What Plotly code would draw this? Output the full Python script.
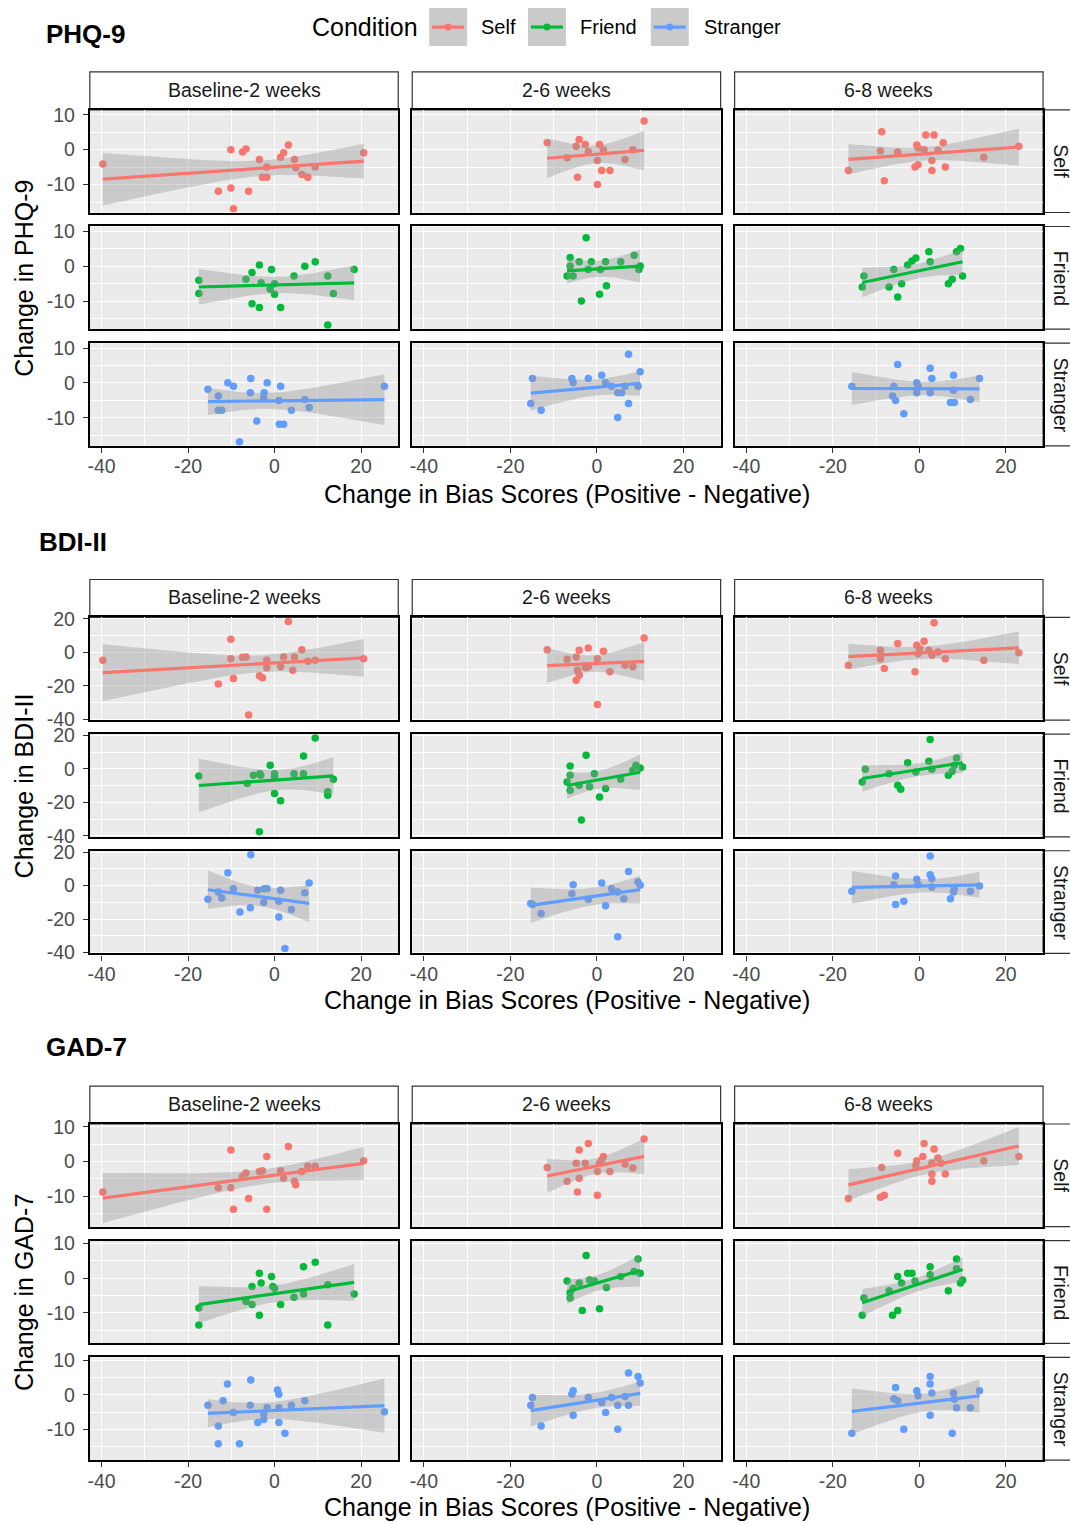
import numpy as np
import plotly.graph_objects as go

# ---------------------------------------------------------------------------
# Data: (change in bias score, change in symptom score) per participant
# ---------------------------------------------------------------------------
CONDITIONS = ["Self", "Friend", "Stranger"]
PERIODS = ["Baseline-2 weeks", "2-6 weeks", "6-8 weeks"]
MEASURES = ["PHQ-9", "BDI-II", "GAD-7"]

PHQ_SELF_T1 = [(-39.7, -4.1), (-13.0, -11.9), (-10.1, 0.0), (-10.1, -11.0), (-9.5, -16.9), (-7.4, -0.7),
               (-6.6, 0.2), (-6.0, -11.9), (-3.5, -2.8), (-2.8, -7.9), (-1.8, -5.0), (-1.8, -7.9),
               (1.4, -2.2), (2.1, -0.9), (3.2, 1.3), (4.6, -2.8), (4.9, -5.2), (6.3, -7.1), (7.7, -7.9),
               (9.4, -5.0), (20.6, -0.9)]
PHQ_SELF_T2 = [(-11.5, 2.0), (-6.9, -2.3), (-4.8, 1.0), (-4.1, 2.9), (-2.7, 1.5), (-4.5, -7.9), (0.1, -3.1),
               (0.6, 1.5), (1.5, 0.0), (1.1, -6.0), (3.0, -6.0), (0.1, -10.0), (6.5, -2.8), (8.3, 0.0),
               (10.9, 8.2), (-2.0, -0.5)]
PHQ_SELF_T3 = [(-16.4, -6.0), (-9.0, -0.4), (-8.7, 5.1), (-8.1, -8.9), (-5.0, -0.7), (-0.6, 1.3), (-0.3, 0.5),
               (-1.0, -5.0), (-0.3, -4.3), (1.1, 0.0), (1.5, 4.2), (3.4, 4.2), (2.9, -3.1), (2.9, -6.0),
               (4.3, -0.2), (5.5, 2.0), (6.0, -5.0), (14.9, -2.2), (23.0, 1.0)]
PHQ_FRIEND_T1 = [(-17.5, -4.0), (-17.5, -7.8), (-6.6, -3.7), (-5.2, -1.8), (-3.5, 0.4), (-3.1, -4.7),
                 (-0.7, -0.9), (-1.0, -6.6), (0.0, -8.0), (0.0, -5.0), (-5.2, -10.7), (-3.5, -11.8),
                 (1.4, -11.8), (4.5, -2.8), (7.0, 0.0), (9.4, 1.3), (12.3, -2.8), (13.6, -7.8),
                 (12.3, -16.8), (18.4, -0.9)]
PHQ_FRIEND_T2 = [(-2.5, 8.2), (-6.2, 2.5), (-6.2, 0.1), (-6.9, -2.8), (-5.5, -2.8), (-4.1, 1.3), (-1.3, 1.3),
                 (2.0, 1.3), (5.5, 1.3), (8.6, 3.2), (10.0, 0.1), (9.7, -0.9), (2.2, -5.6), (0.6, -8.0),
                 (-3.6, -9.9), (-2.0, -0.9), (0.8, -0.9)]
PHQ_FRIEND_T3 = [(-12.8, -2.8), (-13.2, -5.9), (-7.0, -5.9), (-5.0, -8.8), (-5.9, -0.9), (-4.1, -5.0),
                 (-2.7, 0.4), (-1.7, 1.5), (-0.8, 2.4), (2.2, 4.2), (2.5, 1.3), (6.7, -5.0), (7.6, -3.7),
                 (8.6, 4.2), (9.5, 5.1), (10.0, -2.8)]
PHQ_STRANGER_T1 = [(-15.4, -1.8), (-13.0, -3.7), (-13.0, -7.8), (-12.2, -7.8), (-10.8, 0.1), (-9.5, -0.9),
                   (-5.5, 1.3), (-5.6, -2.8), (-2.4, -2.8), (-1.7, 0.1), (-2.5, -4.2), (1.4, -0.9),
                   (1.0, -5.0), (3.9, -7.8), (7.0, -4.7), (8.0, -7.0), (-4.1, -10.9), (1.1, -11.8),
                   (2.1, -11.8), (-8.1, -16.8), (25.4, -0.9)]
PHQ_STRANGER_T2 = [(-14.9, 1.3), (-15.3, -5.9), (-12.9, -7.8), (-5.8, 1.3), (-5.5, 0.1), (-2.0, 1.3),
                   (1.1, 2.2), (2.0, 0.1), (3.4, -0.9), (4.8, -2.8), (5.7, -2.8), (6.5, -0.9), (7.3, 8.2),
                   (10.0, 3.2), (9.5, -0.9), (7.3, -5.9), (4.8, -9.9)]
PHQ_STRANGER_T3 = [(-15.6, -0.9), (-5.0, 5.3), (-5.9, -0.9), (-6.2, -3.7), (-5.5, -5.0), (-3.6, -8.8),
                   (-0.6, 0.1), (-0.3, -0.9), (-0.6, -2.8), (2.5, 4.2), (2.9, 1.3), (2.5, -2.8), (7.9, 2.2),
                   (7.9, -2.1), (7.2, -5.6), (8.1, -5.6), (11.8, -4.7), (13.9, 1.3)]

BDI_SELF_T1 = [(-39.7, -4.8), (-13.0, -19.0), (-10.1, 7.8), (-10.1, -3.8), (-9.5, -15.7), (-7.4, -3.0),
               (-6.6, -2.8), (-6.0, -37.6), (-3.5, -14.1), (-2.8, -15.3), (-1.8, -4.8), (-1.8, -9.3),
               (1.4, -8.7), (2.1, -2.8), (3.2, 18.5), (4.6, -2.8), (4.2, -10.7), (6.3, 1.6), (7.7, -5.4),
               (9.4, -4.8), (20.6, -3.8)]
BDI_SELF_T2 = [(-11.5, 1.6), (-6.9, -4.2), (-4.8, -2.8), (-4.1, 1.2), (-2.0, 2.6), (1.5, 0.6), (0.1, -3.8),
               (-4.5, -10.7), (-4.8, -16.7), (-4.1, -13.7), (-2.7, -9.3), (0.1, -31.2), (3.0, -11.7),
               (6.5, -7.8), (8.3, -8.7), (10.9, 8.5), (-2.0, -8.7)]
BDI_SELF_T3 = [(-16.4, -7.8), (-9.0, 1.2), (-9.0, -3.8), (-8.1, -9.7), (-5.0, 5.2), (-0.6, 4.2), (0.1, 2.2),
               (1.1, 6.6), (-1.0, -11.7), (-0.3, -0.8), (2.9, -1.8), (3.4, 17.7), (4.3, 0.2), (6.0, -3.8),
               (14.9, -4.8), (23.0, -0.2), (2.2, 1.2)]
BDI_FRIEND_T1 = [(-17.5, -4.2), (-4.9, -3.8), (-3.4, -2.8), (-1.0, 2.2), (-3.2, -3.8), (-6.3, -8.7),
                 (0.0, -2.8), (0.0, -4.8), (4.5, -2.8), (6.7, 7.8), (6.7, -2.8), (9.4, 18.5), (0.0, -14.7),
                 (1.4, -19.0), (-3.5, -37.6), (12.3, -13.7), (12.3, -15.7), (13.6, -6.2)]
BDI_FRIEND_T2 = [(-2.5, 8.2), (-6.2, 1.8), (-6.2, -3.8), (-6.9, -7.8), (-6.2, -12.7), (-4.1, -9.7),
                 (-1.7, -10.7), (-0.6, -2.8), (2.0, -11.7), (0.6, -16.7), (5.5, -6.2), (9.0, 2.2),
                 (10.0, 0.6), (8.3, -0.8), (-3.6, -30.6)]
BDI_FRIEND_T3 = [(2.5, 17.7), (-12.5, -0.2), (-13.2, -7.8), (-7.0, -2.8), (-5.0, -9.7), (-4.3, -12.1),
                 (-2.7, 3.8), (-0.8, -1.8), (2.2, 4.6), (2.9, -0.2), (6.7, -3.8), (8.6, 6.6), (8.1, 2.2),
                 (10.0, 1.2), (7.6, -1.4)]
BDI_STRANGER_T1 = [(-15.4, -8.2), (-13.0, -3.8), (-12.2, -7.4), (-10.8, 7.8), (-9.5, -1.8), (-5.5, 18.5),
                   (-8.0, -15.7), (-5.6, -13.3), (-3.9, -2.8), (-2.4, -1.8), (-1.7, -1.8), (-2.5, -10.1),
                   (1.0, -9.3), (1.4, -2.8), (3.9, -14.3), (7.0, -4.2), (8.0, 1.6), (1.0, -18.7),
                   (2.4, -37.6)]
BDI_STRANGER_T2 = [(7.3, 8.5), (1.1, 1.6), (-5.5, 0.6), (-14.9, -11.3), (-15.3, -10.7), (-12.9, -16.7),
                   (-5.8, -4.8), (-2.0, -8.2), (2.0, -12.1), (3.4, -1.8), (4.8, -3.8), (6.2, -7.8),
                   (9.5, 2.2), (10.0, 0.2), (4.8, -30.6)]
BDI_STRANGER_T3 = [(-15.6, -3.4), (-5.5, 5.8), (-5.9, 0.6), (-5.5, -11.3), (-3.6, -9.3), (-0.6, 3.8),
                   (-0.3, 0.6), (2.5, 17.7), (2.5, 6.6), (2.9, 4.2), (2.9, -0.8), (7.9, -3.8), (7.2, -7.8),
                   (11.8, -3.4), (13.9, -0.2), (8.1, -1.5)]

GAD_SELF_T1 = [(-39.7, -8.8), (-10.1, 3.3), (-1.8, 1.4), (3.2, 4.3), (-13.0, -7.6), (-10.1, -7.6),
               (-9.5, -13.8), (-6.0, -10.7), (-1.8, -13.8), (-7.4, -4.3), (-6.6, -3.3), (-3.5, -2.9),
               (-2.8, -2.7), (1.4, -2.7), (2.1, -4.8), (4.6, -5.7), (4.9, -6.7), (6.3, -2.9), (7.7, -1.4),
               (9.4, -1.4), (20.6, 0.2)]
GAD_SELF_T2 = [(-11.5, -1.7), (-6.9, -5.7), (-4.8, -0.5), (-4.1, 3.3), (-2.0, 5.2), (-4.1, -4.8),
               (-4.5, -8.8), (0.1, -9.7), (0.1, -2.9), (0.6, -0.5), (1.5, 1.4), (3.0, -2.9), (-2.7, -0.5),
               (6.5, -0.8), (8.3, -1.9), (10.9, 6.5), (1.1, 0.5)]
GAD_SELF_T3 = [(-16.4, -10.7), (-9.0, -10.3), (-8.1, -9.7), (-8.7, -1.7), (-5.0, 2.4), (-0.6, 0.2),
               (-0.8, -1.1), (1.1, 5.2), (0.8, 1.4), (3.4, 3.6), (2.9, -0.5), (2.9, -3.6), (2.9, -5.7),
               (4.3, 1.0), (5.0, -0.5), (6.0, -3.6), (14.9, 0.2), (23.0, 1.4)]
GAD_FRIEND_T1 = [(-17.5, -8.6), (-17.5, -13.5), (-6.6, -6.7), (-5.2, -7.6), (-5.2, -2.4), (-3.5, 1.4),
                 (-3.1, -1.4), (-0.7, 0.5), (-0.4, -2.4), (0.0, -2.9), (-3.5, -10.7), (1.4, -7.6),
                 (4.5, -5.5), (6.7, 3.3), (6.7, -4.6), (9.4, 4.6), (12.3, -1.9), (12.3, -13.5),
                 (18.4, -4.6)]
GAD_FRIEND_T2 = [(-2.5, 6.5), (-6.9, -0.8), (-6.2, -4.3), (-6.2, -5.7), (-4.1, -1.4), (-1.7, -0.5),
                 (-0.6, -0.8), (2.2, -2.7), (5.5, 0.5), (8.6, 1.9), (9.5, 5.5), (10.0, 1.4), (-3.4, -9.3),
                 (0.6, -8.8), (-5.5, -2.9)]
GAD_FRIEND_T3 = [(-12.8, -5.7), (-13.2, -10.7), (-7.0, -3.6), (-6.2, -10.7), (-5.0, -9.3), (-5.0, 0.5),
                 (-4.1, -1.4), (-2.7, 1.4), (-1.7, 1.4), (-1.0, -0.8), (2.5, 3.3), (2.5, 1.0), (6.7, -3.6),
                 (8.6, 5.5), (8.6, 2.7), (9.5, -1.4), (10.0, -0.5)]
GAD_STRANGER_T1 = [(-15.4, -3.0), (-13.0, -9.0), (-13.0, -14.1), (-11.9, -1.7), (-10.9, 3.1), (-9.5, -5.1),
                   (-8.1, -14.1), (-5.5, 4.3), (-5.6, -3.0), (-3.9, -8.0), (-2.5, -7.1), (-2.5, -5.6),
                   (-1.7, -3.7), (0.7, 1.4), (1.0, 0.2), (1.0, -3.7), (1.0, -8.0), (2.4, -11.1),
                   (3.9, -3.0), (7.0, -1.7), (25.4, -4.9)]
GAD_STRANGER_T2 = [(7.3, 6.3), (9.5, 5.3), (10.0, 3.4), (-14.9, -0.8), (-15.3, -3.0), (-12.9, -9.0),
                   (-5.8, 0.2), (-5.5, 1.2), (-5.5, -5.9), (-2.0, -0.8), (1.1, -2.2), (2.0, -5.1),
                   (3.4, -0.8), (4.8, -3.0), (6.5, -0.5), (7.3, -3.0), (4.8, -9.9)]
GAD_STRANGER_T3 = [(-15.6, -11.1), (-5.5, 2.1), (-5.9, -1.1), (-5.0, -1.7), (-3.6, -9.9), (-0.6, 1.2),
                   (-0.3, -0.3), (2.5, 5.3), (2.5, 3.1), (2.9, 0.5), (2.5, -5.9), (7.9, 0.5), (8.1, -1.3),
                   (8.6, -3.7), (7.6, -11.1), (11.8, -3.7), (13.9, 1.2)]

PANELS = {
    ("PHQ-9", "Self"): [PHQ_SELF_T1, PHQ_SELF_T2, PHQ_SELF_T3],
    ("PHQ-9", "Friend"): [PHQ_FRIEND_T1, PHQ_FRIEND_T2, PHQ_FRIEND_T3],
    ("PHQ-9", "Stranger"): [PHQ_STRANGER_T1, PHQ_STRANGER_T2, PHQ_STRANGER_T3],
    ("BDI-II", "Self"): [BDI_SELF_T1, BDI_SELF_T2, BDI_SELF_T3],
    ("BDI-II", "Friend"): [BDI_FRIEND_T1, BDI_FRIEND_T2, BDI_FRIEND_T3],
    ("BDI-II", "Stranger"): [BDI_STRANGER_T1, BDI_STRANGER_T2, BDI_STRANGER_T3],
    ("GAD-7", "Self"): [GAD_SELF_T1, GAD_SELF_T2, GAD_SELF_T3],
    ("GAD-7", "Friend"): [GAD_FRIEND_T1, GAD_FRIEND_T2, GAD_FRIEND_T3],
    ("GAD-7", "Stranger"): [GAD_STRANGER_T1, GAD_STRANGER_T2, GAD_STRANGER_T3],
}

X_TICKS = [-40, -20, 0, 20]
Y_TICKS = {"PHQ-9": [-10, 0, 10], "BDI-II": [-40, -20, 0, 20], "GAD-7": [-10, 0, 10]}

# ---------------------------------------------------------------------------
# Styling / layout
# ---------------------------------------------------------------------------
W, H = 1070, 1524
FONT = "Liberation Sans, Arial, sans-serif"
COLORS = {"Self": "#F8766D", "Friend": "#00BA38", "Stranger": "#619CFF"}
BAND = "rgba(153,153,153,0.4)"
PANEL_BG = "#EBEBEB"

X_RANGE = [-42.7, 28.6]
Y_RANGES = {"PHQ-9": [-18.0, 11.4], "BDI-II": [-40.6, 20.9], "GAD-7": [-18.8, 10.8]}
Y_MINOR = {"PHQ-9": 5, "BDI-II": 10, "GAD-7": 5}

COL_PX = [(88, 397), (411, 720), (734, 1043)]
ROW_PX = {
    "PHQ-9": [(108, 211), (225, 328), (342, 445)],
    "BDI-II": [(617, 720), (734, 837), (851, 954)],
    "GAD-7": [(1125, 1228), (1242, 1345), (1359, 1462)],
}
STRIP_TOP = {"PHQ-9": 70, "BDI-II": 579, "GAD-7": 1087}
TITLE_POS = {"PHQ-9": (42, 32), "BDI-II": (35, 541), "GAD-7": (42, 1048)}
XTITLE_Y = {"PHQ-9": 493, "BDI-II": 1001, "GAD-7": 1509}

# vertical page layout: the page is laid out on a 1540 px grid with an 8 px top inset
PAGE_H, INSET = 1540, 8


def fx(px):
    return px / W


def fy(py):
    inner = py * PAGE_H / H - INSET
    return 1 - inner / H


def t975(df):
    """Cornish-Fisher approximation of the 97.5% Student-t quantile."""
    z = 1.959963985
    g1 = (z ** 3 + z) / 4
    g2 = (5 * z ** 5 + 16 * z ** 3 + 3 * z) / 96
    g3 = (3 * z ** 7 + 19 * z ** 5 + 17 * z ** 3 - 15 * z) / 384
    return z + g1 / df + g2 / df ** 2 + g3 / df ** 3


def lm_fit(x, y, n_grid=80):
    """Least-squares line with a 95% confidence band over the data range."""
    x = np.asarray(x, float)
    y = np.asarray(y, float)
    n = len(x)
    xm, ym = x.mean(), y.mean()
    sxx = ((x - xm) ** 2).sum()
    b = ((x - xm) * (y - ym)).sum() / sxx
    a = ym - b * xm
    s = np.sqrt(((y - (a + b * x)) ** 2).sum() / (n - 2))
    grid = np.linspace(x.min(), x.max(), n_grid)
    fit = a + b * grid
    se = s * np.sqrt(1 / n + (grid - xm) ** 2 / sxx)
    t = t975(n - 2)
    return grid, fit, fit - t * se, fit + t * se


fig = go.Figure()
layout = {}
shapes = []
annotations = []

tick_font = dict(family=FONT, size=19.5, color="#4D4D4D")
strip_font = dict(family=FONT, size=19.5, color="#1A1A1A")

idx = 0
for measure in MEASURES:
    rows = ROW_PX[measure]
    for r, cond in enumerate(CONDITIONS):
        for c in range(3):
            idx += 1
            xname = "x" if idx == 1 else f"x{idx}"
            yname = "y" if idx == 1 else f"y{idx}"
            xkey = "xaxis" if idx == 1 else f"xaxis{idx}"
            ykey = "yaxis" if idx == 1 else f"yaxis{idx}"
            pts = PANELS[(measure, cond)][c]
            xs = [p[0] for p in pts]
            ys = [p[1] for p in pts]
            color = COLORS[cond]

            fig.add_trace(go.Scatter(
                x=xs, y=ys, mode="markers", xaxis=xname, yaxis=yname,
                marker=dict(color=color, size=7.5, line=dict(width=0)),
                showlegend=False, hoverinfo="skip"))
            grid, fit, lo, hi = lm_fit(xs, ys)
            fig.add_trace(go.Scatter(
                x=np.concatenate([grid, grid[::-1]]),
                y=np.concatenate([hi, lo[::-1]]),
                mode="lines", fill="toself", fillcolor=BAND,
                line=dict(width=0), xaxis=xname, yaxis=yname,
                showlegend=False, hoverinfo="skip"))
            fig.add_trace(go.Scatter(
                x=grid, y=fit, mode="lines", xaxis=xname, yaxis=yname,
                line=dict(color=color, width=3.2),
                showlegend=False, hoverinfo="skip"))

            x0, x1 = COL_PX[c]
            top, bot = rows[r]
            bottom_row = r == 2
            first_col = c == 0
            layout[xkey] = dict(
                domain=[fx(x0), fx(x1)], range=X_RANGE, anchor=yname,
                tickmode="array", tickvals=X_TICKS, ticktext=[str(v) for v in X_TICKS],
                showticklabels=bottom_row, ticks="outside" if bottom_row else "",
                ticklen=5, tickwidth=1.1, tickcolor="#333333", tickfont=tick_font,
                ticklabelstandoff=-3,
                showgrid=True, gridcolor="white", gridwidth=1.4, zeroline=False,
                minor=dict(tickmode="linear", dtick=10, tick0=0, showgrid=True,
                           gridcolor="white", gridwidth=0.7),
                showline=True, mirror=True, linecolor="black", linewidth=2.2,
                fixedrange=True)
            layout[ykey] = dict(
                domain=[fy(bot), fy(top)], range=Y_RANGES[measure], anchor=xname,
                tickmode="array", tickvals=Y_TICKS[measure],
                ticktext=[str(v) for v in Y_TICKS[measure]],
                showticklabels=first_col, ticks="outside" if first_col else "",
                ticklen=5, tickwidth=1.1, tickcolor="#333333", tickfont=tick_font,
                ticklabelstandoff=4,
                showgrid=True, gridcolor="white", gridwidth=1.4, zeroline=False,
                minor=dict(tickmode="linear", dtick=Y_MINOR[measure], tick0=0, showgrid=True,
                           gridcolor="white", gridwidth=0.7),
                showline=True, mirror=True, linecolor="black", linewidth=2.2,
                fixedrange=True)

    # column strips
    st = STRIP_TOP[measure]
    for c, period in enumerate(PERIODS):
        x0, x1 = COL_PX[c]
        shapes.append(dict(type="rect", xref="paper", yref="paper",
                           x0=fx(x0), x1=fx(x1), y0=fy(rows[0][0]), y1=fy(st),
                           fillcolor="white", line=dict(color="#333333", width=1.2), layer="below"))
        annotations.append(dict(text=period, xref="paper", yref="paper",
                                x=fx((x0 + x1) / 2), y=fy((st + rows[0][0]) / 2 - 1),
                                xanchor="center", yanchor="middle", showarrow=False,
                                font=strip_font))
    # row strips
    for r, cond in enumerate(CONDITIONS):
        top, bot = rows[r]
        shapes.append(dict(type="rect", xref="paper", yref="paper",
                           x0=fx(1043), x1=fx(1082), y0=fy(bot), y1=fy(top),
                           fillcolor="white", line=dict(color="#333333", width=1.2), layer="below"))
        annotations.append(dict(text=cond, xref="paper", yref="paper",
                                x=fx(1061), y=fy((top + bot) / 2), textangle=90,
                                xanchor="center", yanchor="middle", showarrow=False,
                                font=strip_font))

    # block title, axis titles
    tx, ty = TITLE_POS[measure]
    annotations.append(dict(text=f"<b>{measure}</b>", xref="paper", yref="paper",
                            x=fx(tx), y=fy(ty), xanchor="left", yanchor="middle",
                            showarrow=False, font=dict(family=FONT, size=26, color="black")))
    annotations.append(dict(text=f"Change in {measure}", xref="paper", yref="paper",
                            x=fx(22), y=fy((rows[0][0] + rows[2][1]) / 2), textangle=-90,
                            xanchor="center", yanchor="middle", showarrow=False,
                            font=dict(family=FONT, size=25, color="black")))
    annotations.append(dict(text="Change in Bias Scores (Positive - Negative)",
                            xref="paper", yref="paper", x=fx(566), y=fy(XTITLE_Y[measure]),
                            xanchor="center", yanchor="middle", showarrow=False,
                            font=dict(family=FONT, size=25, color="black")))

# Legend (drawn by hand to reproduce the grey keys)
annotations.append(dict(text="Condition", xref="paper", yref="paper", x=fx(309), y=fy(25),
                        xanchor="left", yanchor="middle", showarrow=False,
                        font=dict(family=FONT, size=25, color="black")))
LEGEND_KEYS = [(428, 478), (527, 577), (650, 701)]
for (kx, lx), cond in zip(LEGEND_KEYS, CONDITIONS):
    shapes.append(dict(type="rect", xref="paper", yref="paper",
                       x0=fx(kx), x1=fx(kx + 38), y0=fy(44), y1=fy(6),
                       fillcolor="#CACACA", line=dict(width=0)))
    shapes.append(dict(type="line", xref="paper", yref="paper",
                       x0=fx(kx + 3), x1=fx(kx + 35), y0=fy(25), y1=fy(25),
                       line=dict(color=COLORS[cond], width=3.2)))
    shapes.append(dict(type="circle", xref="paper", yref="paper",
                       x0=fx(kx + 15.5), x1=fx(kx + 22.5), y0=fy(28.5), y1=fy(21.5),
                       fillcolor=COLORS[cond], line=dict(width=0)))
    annotations.append(dict(text=cond, xref="paper", yref="paper", x=fx(lx), y=fy(25),
                            xanchor="left", yanchor="middle", showarrow=False,
                            font=dict(family=FONT, size=20, color="black")))

fig.update_layout(
    width=W, height=H,
    margin=dict(l=0, r=0, t=0, b=0),
    paper_bgcolor="white", plot_bgcolor=PANEL_BG,
    showlegend=False,
    shapes=shapes, annotations=annotations,
    font=dict(family=FONT),
    **layout)

fig.write_html("out.html")
